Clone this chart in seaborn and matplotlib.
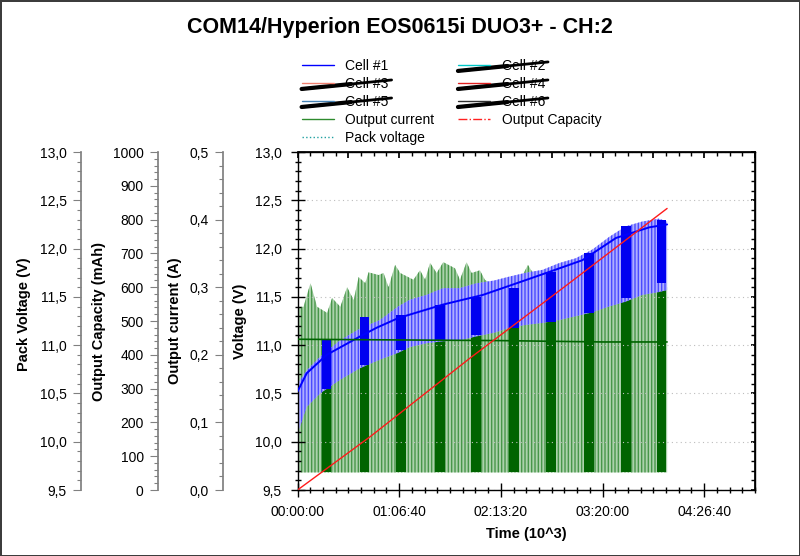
import matplotlib
matplotlib.use("Agg")
import numpy as np
import pandas as pd
import matplotlib.pyplot as plt
import matplotlib.transforms as mtransforms
from matplotlib.lines import Line2D
from matplotlib.ticker import MultipleLocator, FuncFormatter
import seaborn as sns

# ---------------------------------------------------------------- data
title = "COM14/Hyperion EOS0615i DUO3+ - CH:2"

# x axis (seconds)
time_ticks = [0, 4000, 8000, 12000, 16000]
time_labels = ["00:00:00", "01:06:40", "02:13:20", "03:20:00", "04:26:40"]

# Cell #1 voltage band (V)
cell_t = [0, 360, 890, 1670, 2450, 3240, 3960, 4415, 5070, 5723, 6377, 7030,
          7750, 8337, 8990, 9643, 10297, 10950, 11603, 12257, 12910, 13563,
          14217, 14540]
cell_hi = [10.60, 10.74, 10.88, 11.05, 11.17, 11.26, 11.40, 11.47, 11.52,
           11.59, 11.59, 11.64, 11.67, 11.71, 11.75, 11.78, 11.85, 11.90,
           11.99, 12.12, 12.23, 12.28, 12.31, 12.28]
cell_lo = [10.08, 10.36, 10.50, 10.64, 10.76, 10.85, 10.92, 10.98, 11.02,
           11.04, 11.05, 11.09, 11.13, 11.18, 11.21, 11.23, 11.26, 11.30,
           11.34, 11.40, 11.45, 11.52, 11.55, 11.57]

# Cell #1 mean line (V)
cell_mean_t = [0, 365, 1150, 2460, 3110, 3960, 5720, 7290, 8610, 9920,
               11210, 12530, 13840, 14540]
cell_mean = [10.52, 10.71, 10.90, 11.09, 11.18, 11.28, 11.42, 11.52, 11.64,
             11.76, 11.88, 12.11, 12.22, 12.25]

# Output current pulses: floor and peak envelope (A)
cur_floor = 0.026
cur_t = [0, 235, 510, 770, 1165, 1360, 1685, 1950, 2210, 2405, 2665, 2795,
         3190, 3385, 3580, 3840, 4040, 4560, 4820, 5020, 5215, 5475, 5735,
         6195, 6390, 6650, 6850, 7175, 7370, 7830, 8090, 8350, 8610, 9065,
         9260, 9720, 9920, 12000, 14540]
cur_hi = [0.271, 0.271, 0.306, 0.271, 0.262, 0.284, 0.271, 0.300, 0.281,
          0.315, 0.306, 0.322, 0.318, 0.321, 0.300, 0.333, 0.321, 0.311,
          0.325, 0.311, 0.336, 0.321, 0.337, 0.328, 0.311, 0.337, 0.321,
          0.325, 0.311, 0.300, 0.291, 0.315, 0.300, 0.333, 0.321, 0.311,
          0.328, 0.300, 0.300]

# Output current mean line (A)
cur_mean_t = [0, 4000, 8000, 12000, 14540]
cur_mean = [0.223, 0.222, 0.221, 0.219, 0.219]

# dense sampling blocks (start/end s, cell band V, current top A)
blk_t0 = [953, 2457, 3894, 5397, 6834, 8337, 9773, 11278, 12713, 14151]
blk_t1 = [1305, 2822, 4286, 5789, 7226, 8729, 10165, 11670, 13105, 14504]
blk_lo = [10.55, 10.79, 10.95, 11.05, 11.10, 11.18, 11.24, 11.33, 11.49, 11.64]
blk_hi = [11.05, 11.29, 11.31, 11.42, 11.50, 11.59, 11.76, 11.95, 12.23, 12.30]
blk_cur_hi = [0.221, 0.256, 0.259, 0.274, 0.286, 0.299, 0.323, 0.350, 0.390, 0.400]

# Output capacity (mAh)
cap_t = [0, 2862, 6782, 10500, 14540]
cap_mah = [0, 158, 390, 601, 833]

# legend entries
legend_labels = ["Cell #1", "Cell #2", "Cell #3", "Cell #4", "Cell #5",
                 "Cell #6", "Output current", "Output Capacity", "Pack voltage"]
legend_colors = ["#0000ff", "#00c8c8", "#f08070", "#e02020", "#4682b4",
                 "#303030", "#2e8b2e", "#ff2020", "#20a0a0"]
legend_styles = ["-", "-", "-", "-", "-", "-", "-", "-.", ":"]
struck_labels = ["Cell #2", "Cell #3", "Cell #4", "Cell #5", "Cell #6"]

# ---------------------------------------------------------------- style
sns.set_theme(style="ticks", rc={"axes.edgecolor": "black", "text.color": "black",
                                 "axes.labelcolor": "black", "xtick.color": "black",
                                 "ytick.color": "black"})
plt.rcParams["font.family"] = ["Liberation Sans", "DejaVu Sans"]
plt.rcParams["hatch.linewidth"] = 1.0

comma1 = FuncFormatter(lambda v, p: f"{v:.1f}".replace(".", ","))
intfmt = FuncFormatter(lambda v, p: f"{v:.0f}")

fig = plt.figure(figsize=(8, 5.56), dpi=100)
fig.patch.set_facecolor("white")
fig.patch.set_edgecolor("#3c3c3c")
fig.patch.set_linewidth(2)

ax = fig.add_axes([0.3719, 0.1187, 0.5719, 0.6079])


def side_axis(offset):
    a = ax.twinx()
    a.patch.set_visible(False)
    for s in ["top", "right", "bottom"]:
        a.spines[s].set_visible(False)
    a.spines["left"].set_visible(True)
    a.spines["left"].set_position(("axes", offset))
    a.spines["left"].set_color("#808080")
    a.yaxis.set_ticks_position("left")
    a.yaxis.set_label_position("left")
    a.tick_params(axis="y", which="major", direction="out", length=5.8,
                  width=0.8, color="#808080", labelsize=10, pad=4.5)
    a.tick_params(axis="y", which="minor", direction="out", length=2.9,
                  width=0.8, color="#808080")
    return a


ax_pack = side_axis(-0.473)
ax_cap = side_axis(-0.305)
ax_cur = side_axis(-0.163)

ax_pack.set_zorder(0)
ax_cur.set_zorder(1)
ax.set_zorder(2)
ax_cap.set_zorder(3)
ax.patch.set_visible(False)

# output current (green pulses)
ax_cur.fill_between(cur_t, cur_floor, cur_hi, facecolor="#acd2ac",
                    edgecolor="#48964a", hatch="|||||", linewidth=0)
for t0, t1, top in zip(blk_t0, blk_t1, blk_cur_hi):
    ax_cur.fill_between([t0, t1], cur_floor, top, color="#006400", linewidth=0)

# cell #1 (blue band)
ax.fill_between(cell_t, cell_lo, cell_hi, facecolor="#aeaeff",
                edgecolor="#4a4aff", hatch="|||||", linewidth=0, zorder=1)
for t0, t1, lo, hi in zip(blk_t0, blk_t1, blk_lo, blk_hi):
    ax.fill_between([t0, t1], lo, hi, color="#0000f0", linewidth=0, zorder=2)
sns.lineplot(x=cell_mean_t, y=cell_mean, ax=ax, color="#0000ff",
             linewidth=1.4, legend=False, zorder=3)

blend = mtransforms.blended_transform_factory(ax.transData, ax_cur.transData)
ax.plot(cur_mean_t, cur_mean, color="#006400", lw=1.2, transform=blend, zorder=4)

# output capacity
sns.lineplot(x=cap_t, y=cap_mah, ax=ax_cap, color="#ff1a1a", linewidth=1.0,
             legend=False)

# ---------------------------------------------------------------- axes
ax.set_xlim(0, 18000)
ax.set_ylim(9.5, 13.0)
ax_cur.set_ylim(0, 0.5)
ax_cap.set_ylim(0, 1000)
ax_pack.set_ylim(9.5, 13.0)

ax.set_xticks(time_ticks, time_labels)
ax.xaxis.set_minor_locator(MultipleLocator(500))
ax.yaxis.set_major_locator(MultipleLocator(0.5))
ax.yaxis.set_minor_locator(MultipleLocator(0.1))
ax.yaxis.set_major_formatter(comma1)
ax.tick_params(which="major", direction="inout", length=9.4, width=1,
               labelsize=10, left=True, bottom=True, right=False, top=False)
ax.tick_params(axis="y", which="major", pad=6.7)
ax.tick_params(axis="x", which="major", pad=6.1)
ax.tick_params(which="minor", direction="inout", length=5, width=1,
               left=True, bottom=True, right=False, top=False)
for s in ax.spines.values():
    s.set_color("black")
    s.set_linewidth(1)
ax.grid(axis="y", which="major", linestyle=(0, (1, 3)), color="#bdbdbd", lw=0.8)

top = ax.secondary_xaxis("top")
top.xaxis.set_major_locator(MultipleLocator(2000))
top.xaxis.set_minor_locator(MultipleLocator(500))
top.tick_params(which="both", direction="in", labeltop=False)
top.tick_params(which="major", length=4.5)
top.tick_params(which="minor", length=3)

right = ax.secondary_yaxis("right")
right.yaxis.set_major_locator(MultipleLocator(0.5))
right.yaxis.set_minor_locator(MultipleLocator(0.1))
right.tick_params(which="both", direction="in", length=3, labelright=False)

ax_pack.yaxis.set_major_locator(MultipleLocator(0.5))
ax_pack.yaxis.set_minor_locator(MultipleLocator(0.1))
ax_pack.yaxis.set_major_formatter(comma1)
ax_cap.yaxis.set_major_locator(MultipleLocator(100))
ax_cap.yaxis.set_minor_locator(MultipleLocator(20))
ax_cap.yaxis.set_major_formatter(intfmt)
ax_cur.yaxis.set_major_locator(MultipleLocator(0.1))
ax_cur.yaxis.set_minor_locator(MultipleLocator(0.02))
ax_cur.yaxis.set_major_formatter(comma1)

lab = dict(fontsize=10.5, fontweight="bold")
ax.set_xlabel("Time (10^3)", **lab)
ax.xaxis.set_label_coords(0.5, -0.109)
ax.set_ylabel("Voltage (V)", **lab)
ax.yaxis.set_label_coords(-0.110, 0.5)
ax_cur.set_ylabel("Output current (A)", **lab)
ax_cur.yaxis.set_label_coords(-0.252, 0.5)
ax_cap.set_ylabel("Output Capacity (mAh)", **lab)
ax_cap.yaxis.set_label_coords(-0.418, 0.5)
ax_pack.set_ylabel("Pack Voltage (V)", **lab)
ax_pack.yaxis.set_label_coords(-0.582, 0.52)

fig.text(0.5, 1 - 28 / 556, title, ha="center", va="center",
         fontsize=15.5, fontweight="bold")

# ---------------------------------------------------------------- legend
order = [0, 2, 4, 6, 8, 1, 3, 5, 7]
handles = [Line2D([], [], color=legend_colors[i], ls=legend_styles[i],
                  lw=1.0) for i in order]
labels = [legend_labels[i] for i in order]
leg = fig.legend(handles, labels, loc="upper left",
                 bbox_to_anchor=(0.377, 0.894), ncol=2, frameon=False,
                 fontsize=10, handlelength=2.3, handletextpad=0.84,
                 columnspacing=1.7, labelspacing=0.29, borderpad=0,
                 borderaxespad=0)

fig.canvas.draw()
renderer = fig.canvas.get_renderer()
inv = fig.transFigure.inverted()
for text, h in zip(leg.get_texts(), leg.legend_handles):
    if text.get_text() not in struck_labels:
        continue
    tb = text.get_window_extent(renderer)
    hb = h.get_window_extent(renderer)
    cy = (tb.y0 + tb.y1) / 2
    p0 = inv.transform((hb.x0, cy - 5))
    p1 = inv.transform((tb.x1 + 3, cy + 4))
    pm = inv.transform((hb.x0 + 0.55 * (tb.x1 + 3 - hb.x0), cy - 5 + 0.55 * 9))
    fig.add_artist(Line2D([p0[0], p1[0]], [p0[1], p1[1]], color="black",
                          lw=2.0, solid_capstyle="round",
                          transform=fig.transFigure))
    fig.add_artist(Line2D([p0[0], pm[0]], [p0[1], pm[1]], color="black",
                          lw=3.0, solid_capstyle="round",
                          transform=fig.transFigure))

fig.savefig("out.png", dpi=100)
